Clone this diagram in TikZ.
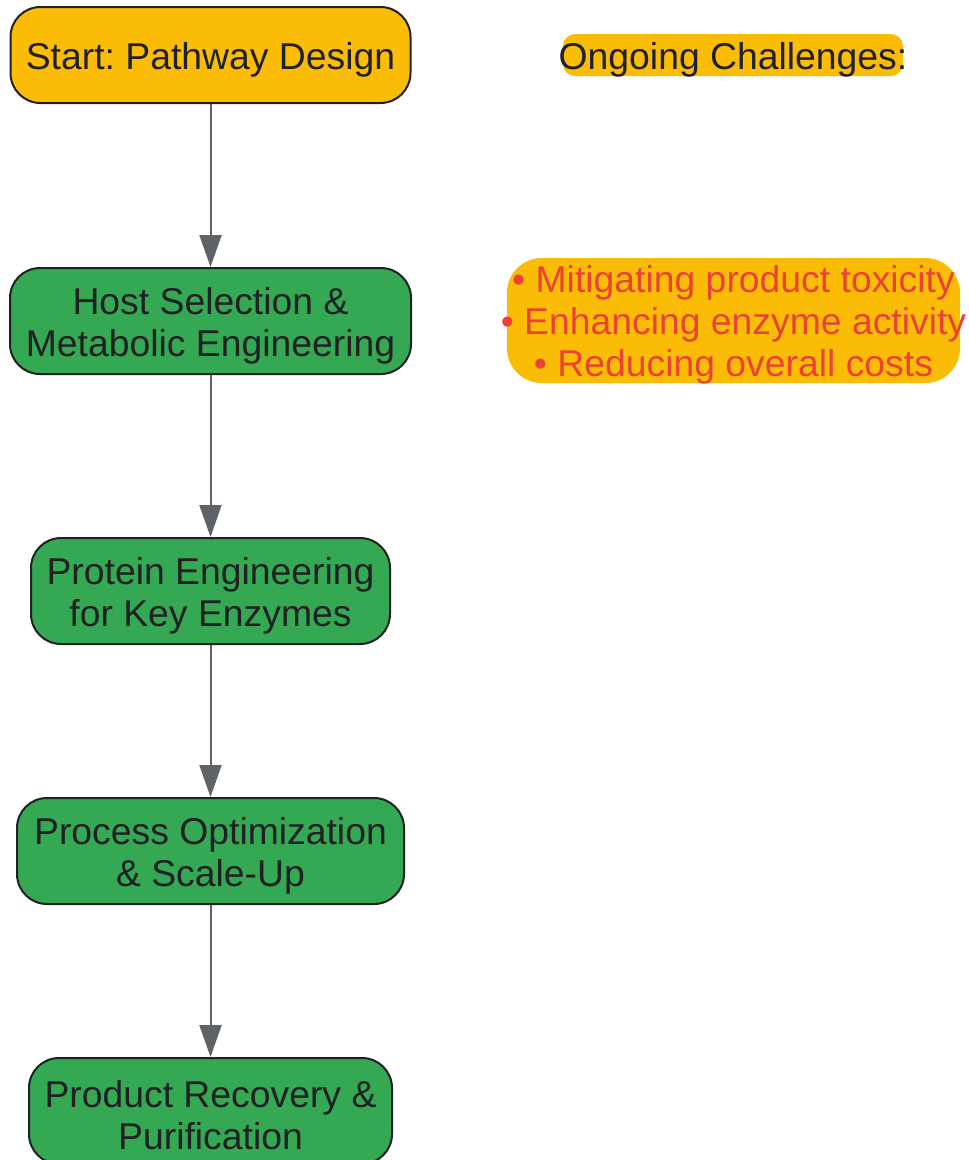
\documentclass[tikz,border=0pt]{standalone}
\usepackage{fontspec}
\setmainfont{Liberation Sans}
\usetikzlibrary{arrows.meta}
\definecolor{amber}{HTML}{FBBC05}
\definecolor{ggreen}{HTML}{34A853}
\definecolor{ink}{HTML}{202124}
\definecolor{gred}{HTML}{EA4335}
\definecolor{arrowgray}{HTML}{5F6368}
\frenchspacing
\begin{document}
\begin{tikzpicture}[x=0.75pt,y=-0.75pt,
  txt/.style={font=\fontsize{28}{31.5}\selectfont, align=center, inner sep=0pt, yshift=-3.4pt},
  box/.style={draw=ink, line width=1.5pt, rounded corners=22.5pt, inner sep=0pt},
  startbox/.style={box, fill=amber, minimum height=72pt},
  stepbox/.style={box, fill=ggreen, minimum height=79.5pt},
  arr/.style={draw=arrowgray, line width=1.5pt, -{Triangle[length=24pt,width=16.5pt]}}]
\useasboundingbox (0,0) rectangle (969,1160);
\node[startbox, minimum width=300pt] (n1) at (210.5,55) {};
\node[txt, text=ink] (t1) at (n1.center) {Start: Pathway Design};
\node[stepbox, minimum width=300.75pt] (n2) at (210.5,321) {};
\node[txt, text=ink] (t2) at (n2.center) {Host Selection \&\\Metabolic Engineering};
\node[stepbox, minimum width=269.25pt] (n3) at (210.5,591) {};
\node[txt, text=ink] (t3) at (n3.center) {Protein Engineering\\for Key Enzymes};
\node[stepbox, minimum width=290.25pt] (n4) at (210.5,851) {};
\node[txt, text=ink] (t4) at (n4.center) {Process Optimization\\\& Scale-Up};
\node[stepbox, minimum width=272.25pt] (n5) at (210.5,1111) {};
\node[txt, text=ink] (t5) at (n5.center) {Product Recovery \&\\Purification};
\draw[arr] (n1) -- (n2);
\draw[arr] (n2) -- (n3);
\draw[arr] (n3) -- (n4);
\draw[arr] (n4) -- (n5);
\node[fill=amber, rounded corners=9pt, minimum width=255pt, minimum height=31.5pt, inner sep=0pt] (chbg) at (733,55) {};
\node[txt, text=ink] (ch) at (chbg.center) {Ongoing Challenges:};
\node[fill=amber, rounded corners=26pt, minimum width=339.75pt, minimum height=93.75pt, inner sep=0pt] (lsbg) at (733.5,320.5) {};
\node[txt, text=gred] (ls) at (lsbg.center) {• Mitigating product toxicity\\• Enhancing enzyme activity\\• Reducing overall costs};
\end{tikzpicture}
\end{document}
